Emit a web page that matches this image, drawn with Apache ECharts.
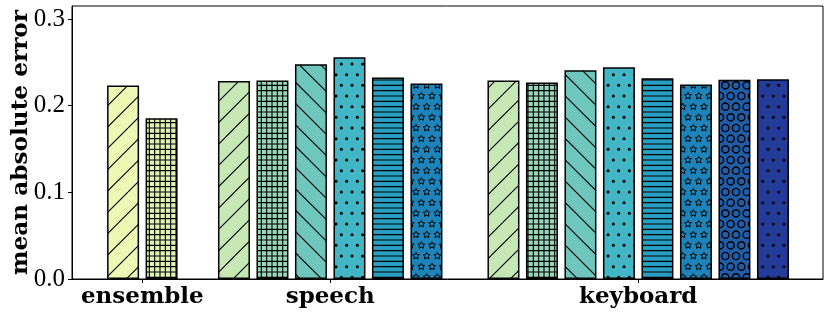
<!DOCTYPE html>
<html>
<head>
<meta charset="utf-8">
<script src="https://cdn.jsdelivr.net/npm/echarts@6/dist/echarts.min.js"></script>
<style>
html,body{margin:0;padding:0;background:#fff;}
#chart{width:830px;height:316px;}
</style>
</head>
<body>
<div id="chart"></div>
<script>
// ---- data ----
const groups = ['ensemble', 'speech', 'keyboard'];
const ensembleMAE = [0.2232, 0.1856];
const speechMAE = [0.2286, 0.2290, 0.2479, 0.2559, 0.2324, 0.2255];
const keyboardMAE = [0.2290, 0.2266, 0.2409, 0.2444, 0.2317, 0.2243, 0.2298, 0.2306];
const yTicks = [0.0, 0.1, 0.2, 0.3];

// ---- styles ----
const ensembleColors = ['#eef8b5', '#dff3b2'];
const ensembleHatches = ['/', '+'];
const methodColors = ['#c6e8b5', '#99d7b8', '#6fc6bd', '#42b6c5', '#2a9ec1', '#1e83b9', '#225ea8', '#243c98'];
const methodHatches = ['/', '+', '\\', '.', '-', '*', 'O', '.'];

// ---- layout (slot units) ----
const groupStart = [0, 2.88, 9.88];
const xMin = -1.327, xMax = 18.18;

function makeTile(bg, hatch) {
  const T = 64;
  const c = document.createElement('canvas');
  c.width = T; c.height = T;
  const g = c.getContext('2d');
  g.fillStyle = bg; g.fillRect(0, 0, T, T);
  g.strokeStyle = '#000'; g.fillStyle = '#000'; g.lineWidth = 1.1;
  const s = T / 6;
  function line(x1, y1, x2, y2) { g.beginPath(); g.moveTo(x1, y1); g.lineTo(x2, y2); g.stroke(); }
  function shapes(fn) {
    for (let r = -1; r <= 7; r++) {
      const off = (Math.abs(r) % 2) ? s / 2 : 0;
      for (let j = -1; j <= 7; j++) fn(off + j * s, r * s);
    }
  }
  if (hatch === '/') {
    for (let o = -128; o <= 128; o += T / 3) line(o, T, o + T, 0);
  } else if (hatch === '\\') {
    for (let o = -128; o <= 128; o += T / 3) line(o, 0, o + T, T);
  } else if (hatch === '+') {
    const st = T / 12;
    for (let v = 0; v < T + 0.01; v += st) { line(v, 0, v, T); line(0, v, T, v); }
  } else if (hatch === '-') {
    const st = T / 12;
    for (let v = 0; v < T + 0.01; v += st) line(0, v, T, v);
  } else if (hatch === '.') {
    shapes((x, y) => { g.beginPath(); g.arc(x, y, 1.5, 0, Math.PI * 2); g.fill(); });
  } else if (hatch === 'O') {
    g.lineWidth = 1.4;
    shapes((x, y) => { g.beginPath(); g.arc(x, y, 3.6, 0, Math.PI * 2); g.stroke(); });
  } else if (hatch === '*') {
    g.lineWidth = 1.0;
    const R = s / 3;
    shapes((x, y) => {
      g.beginPath();
      for (let k = 0; k < 10; k++) {
        const a = -Math.PI / 2 + k * Math.PI / 5;
        const rr = (k % 2) ? R * 0.5 : R;
        const px = x + rr * Math.cos(a), py = y + rr * Math.sin(a);
        if (k === 0) g.moveTo(px, py); else g.lineTo(px, py);
      }
      g.closePath(); g.stroke();
    });
  }
  return c;
}

const items = [];
function addGroup(gi, values, colors, hatches) {
  values.forEach((v, i) => {
    items.push({
      value: [groupStart[gi] + i, v],
      itemStyle: { color: { image: makeTile(colors[i], hatches[i]), repeat: 'repeat' } }
    });
  });
}
addGroup(0, ensembleMAE, ensembleColors, ensembleHatches);
addGroup(1, speechMAE, methodColors, methodHatches);
addGroup(2, keyboardMAE, methodColors, methodHatches);

const counts = [ensembleMAE.length, speechMAE.length, keyboardMAE.length];
const centers = groupStart.map((s, i) => s + (counts[i] - 1) / 2);

const chart = echarts.init(document.getElementById('chart'), null, { renderer: 'canvas' });
chart.setOption({
  animation: false,
  backgroundColor: '#fff',
  grid: { left: 72, right: 7, top: 6, bottom: 37, show: true, borderColor: '#000', borderWidth: 1,
          backgroundColor: 'transparent', containLabel: false, outerBoundsMode: 'none' },
  xAxis: {
    type: 'value', min: xMin, max: xMax,
    splitLine: { show: false },
    axisLine: { onZero: false, lineStyle: { color: '#000', width: 1 } },
    axisTick: { customValues: centers, length: 4, lineStyle: { color: '#000' } },
    axisLabel: {
      customValues: centers, margin: 7,
      fontFamily: 'DejaVu Serif', fontWeight: 'bold', fontSize: 23, color: '#000',
      formatter: v => { const i = centers.findIndex(c => Math.abs(c - v) < 1e-6); return i >= 0 ? groups[i] : ''; }
    }
  },
  yAxis: {
    type: 'value', min: 0, max: 0.315,
    name: 'mean absolute error', nameLocation: 'middle', nameRotate: 90, nameGap: 40,
    nameMoveOverlap: false,
    nameTextStyle: { fontFamily: 'DejaVu Serif', fontWeight: 'bold', fontSize: 23.2, color: '#000' },
    splitLine: { show: false },
    axisLine: { show: true, onZero: false, lineStyle: { color: '#000', width: 1 } },
    axisTick: { show: true, customValues: yTicks, length: 4, lineStyle: { color: '#000' } },
    axisLabel: {
      customValues: yTicks, margin: 7,
      fontFamily: 'Liberation Serif', fontSize: 25, color: '#000',
      formatter: v => v.toFixed(1)
    }
  },
  series: [{
    type: 'bar', barWidth: 32, data: items,
    itemStyle: { borderColor: '#000', borderWidth: 1.5 }
  }]
});
</script>
</body>
</html>
